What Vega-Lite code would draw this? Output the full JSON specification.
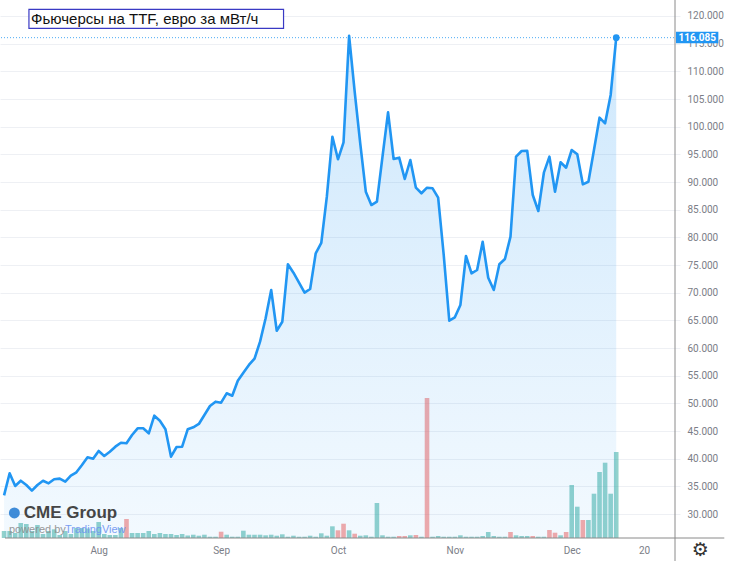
{
  "$schema": "https://vega.github.io/schema/vega-lite/v6.json",
  "description": "TTF futures, EUR per MWh, daily close with volume (TradingView style)",
  "width": 680,
  "height": 538,
  "autosize": {"type": "none"},
  "padding": {"left": 0, "top": 0, "right": 50, "bottom": 23},
  "background": "#ffffff",
  "config": {
    "view": {"stroke": null},
    "axis": {"labelOverlap": false, "labelFont": "Roboto", "labelFontSize": 10, "labelColor": "#7b7e87", "ticks": false, "tickSize": 0, "domain": false}
  },
  "datasets": {
    "ttf": [
      {"date": "2021-07-08", "i": -1, "price": 33.39, "vol": 7, "dir": "up"},
      {"date": "2021-07-09", "i": 0, "price": 37.38, "vol": 7, "dir": "up"},
      {"date": "2021-07-12", "i": 1, "price": 35.09, "vol": 5, "dir": "up"},
      {"date": "2021-07-13", "i": 2, "price": 36.04, "vol": 15, "dir": "up"},
      {"date": "2021-07-14", "i": 3, "price": 35.27, "vol": 14, "dir": "up"},
      {"date": "2021-07-15", "i": 4, "price": 34.24, "vol": 7, "dir": "up"},
      {"date": "2021-07-16", "i": 5, "price": 35.27, "vol": 13, "dir": "up"},
      {"date": "2021-07-19", "i": 6, "price": 36.04, "vol": 4, "dir": "up"},
      {"date": "2021-07-20", "i": 7, "price": 35.57, "vol": 7, "dir": "up"},
      {"date": "2021-07-21", "i": 8, "price": 36.30, "vol": 8.7, "dir": "up"},
      {"date": "2021-07-22", "i": 9, "price": 36.41, "vol": 3, "dir": "up"},
      {"date": "2021-07-23", "i": 10, "price": 35.86, "vol": 7, "dir": "up"},
      {"date": "2021-07-26", "i": 11, "price": 36.95, "vol": 4, "dir": "up"},
      {"date": "2021-07-27", "i": 12, "price": 37.56, "vol": 10, "dir": "up"},
      {"date": "2021-07-28", "i": 13, "price": 38.88, "vol": 10, "dir": "up"},
      {"date": "2021-07-29", "i": 14, "price": 40.27, "vol": 9.5, "dir": "up"},
      {"date": "2021-07-30", "i": 15, "price": 40.02, "vol": 7, "dir": "up"},
      {"date": "2021-08-02", "i": 16, "price": 41.41, "vol": 16, "dir": "up"},
      {"date": "2021-08-03", "i": 17, "price": 40.51, "vol": 4, "dir": "up"},
      {"date": "2021-08-04", "i": 18, "price": 41.28, "vol": 3, "dir": "up"},
      {"date": "2021-08-05", "i": 19, "price": 42.19, "vol": 3, "dir": "up"},
      {"date": "2021-08-06", "i": 20, "price": 42.91, "vol": 10, "dir": "up"},
      {"date": "2021-08-09", "i": 21, "price": 42.80, "vol": 19, "dir": "down"},
      {"date": "2021-08-10", "i": 22, "price": 44.30, "vol": 5, "dir": "up"},
      {"date": "2021-08-11", "i": 23, "price": 45.51, "vol": 5, "dir": "up"},
      {"date": "2021-08-12", "i": 24, "price": 45.51, "vol": 5, "dir": "up"},
      {"date": "2021-08-13", "i": 25, "price": 44.61, "vol": 7, "dir": "up"},
      {"date": "2021-08-16", "i": 26, "price": 47.79, "vol": 4, "dir": "up"},
      {"date": "2021-08-17", "i": 27, "price": 46.88, "vol": 5, "dir": "up"},
      {"date": "2021-08-18", "i": 28, "price": 45.33, "vol": 4, "dir": "up"},
      {"date": "2021-08-19", "i": 29, "price": 40.38, "vol": 4, "dir": "up"},
      {"date": "2021-08-20", "i": 30, "price": 42.13, "vol": 3, "dir": "up"},
      {"date": "2021-08-23", "i": 31, "price": 42.19, "vol": 4, "dir": "up"},
      {"date": "2021-08-24", "i": 32, "price": 45.33, "vol": 2.5, "dir": "up"},
      {"date": "2021-08-25", "i": 33, "price": 45.69, "vol": 3.3, "dir": "up"},
      {"date": "2021-08-26", "i": 34, "price": 46.29, "vol": 2.3, "dir": "up"},
      {"date": "2021-08-27", "i": 35, "price": 47.91, "vol": 3.3, "dir": "up"},
      {"date": "2021-08-30", "i": 36, "price": 49.54, "vol": 1.3, "dir": "up"},
      {"date": "2021-08-31", "i": 37, "price": 50.32, "vol": 1.3, "dir": "up"},
      {"date": "2021-09-01", "i": 38, "price": 50.14, "vol": 6.3, "dir": "down"},
      {"date": "2021-09-02", "i": 39, "price": 51.83, "vol": 3.3, "dir": "up"},
      {"date": "2021-09-03", "i": 40, "price": 51.40, "vol": 1.3, "dir": "up"},
      {"date": "2021-09-07", "i": 41, "price": 54.11, "vol": 1.3, "dir": "up"},
      {"date": "2021-09-08", "i": 42, "price": 55.56, "vol": 7.3, "dir": "up"},
      {"date": "2021-09-09", "i": 43, "price": 56.95, "vol": 3.3, "dir": "up"},
      {"date": "2021-09-10", "i": 44, "price": 58.08, "vol": 3.3, "dir": "up"},
      {"date": "2021-09-13", "i": 45, "price": 61.16, "vol": 3.3, "dir": "up"},
      {"date": "2021-09-14", "i": 46, "price": 65.38, "vol": 2.7, "dir": "up"},
      {"date": "2021-09-15", "i": 47, "price": 70.50, "vol": 3.3, "dir": "up"},
      {"date": "2021-09-16", "i": 48, "price": 63.14, "vol": 2.3, "dir": "up"},
      {"date": "2021-09-17", "i": 49, "price": 64.77, "vol": 3.7, "dir": "up"},
      {"date": "2021-09-20", "i": 50, "price": 75.14, "vol": 1.3, "dir": "up"},
      {"date": "2021-09-21", "i": 51, "price": 73.62, "vol": 2.3, "dir": "up"},
      {"date": "2021-09-22", "i": 52, "price": 71.82, "vol": 1.3, "dir": "up"},
      {"date": "2021-09-23", "i": 53, "price": 70.01, "vol": 1.3, "dir": "up"},
      {"date": "2021-09-24", "i": 54, "price": 70.68, "vol": 2.3, "dir": "up"},
      {"date": "2021-09-27", "i": 55, "price": 77.13, "vol": 1.3, "dir": "up"},
      {"date": "2021-09-28", "i": 56, "price": 78.99, "vol": 4.7, "dir": "up"},
      {"date": "2021-09-29", "i": 57, "price": 87.35, "vol": 2.3, "dir": "up"},
      {"date": "2021-09-30", "i": 58, "price": 98.19, "vol": 11.7, "dir": "up"},
      {"date": "2021-10-01", "i": 59, "price": 94.11, "vol": 7.7, "dir": "down"},
      {"date": "2021-10-04", "i": 60, "price": 97.18, "vol": 14.3, "dir": "down"},
      {"date": "2021-10-05", "i": 61, "price": 116.40, "vol": 7.7, "dir": "up"},
      {"date": "2021-10-06", "i": 62, "price": 106.32, "vol": 4.3, "dir": "down"},
      {"date": "2021-10-07", "i": 63, "price": 97.00, "vol": 2.3, "dir": "up"},
      {"date": "2021-10-08", "i": 64, "price": 88.26, "vol": 2.7, "dir": "up"},
      {"date": "2021-10-11", "i": 65, "price": 85.85, "vol": 1.3, "dir": "up"},
      {"date": "2021-10-12", "i": 66, "price": 86.45, "vol": 35, "dir": "up"},
      {"date": "2021-10-13", "i": 67, "price": 94.58, "vol": 2.7, "dir": "up"},
      {"date": "2021-10-14", "i": 68, "price": 102.60, "vol": 1.3, "dir": "up"},
      {"date": "2021-10-15", "i": 69, "price": 94.16, "vol": 1.3, "dir": "up"},
      {"date": "2021-10-18", "i": 70, "price": 94.40, "vol": 2, "dir": "down"},
      {"date": "2021-10-19", "i": 71, "price": 90.55, "vol": 2, "dir": "down"},
      {"date": "2021-10-20", "i": 72, "price": 93.98, "vol": 2.7, "dir": "up"},
      {"date": "2021-10-21", "i": 73, "price": 88.98, "vol": 3, "dir": "down"},
      {"date": "2021-10-22", "i": 74, "price": 87.97, "vol": 1.3, "dir": "up"},
      {"date": "2021-10-25", "i": 75, "price": 88.98, "vol": 140, "dir": "down"},
      {"date": "2021-10-26", "i": 76, "price": 88.87, "vol": 1.3, "dir": "up"},
      {"date": "2021-10-27", "i": 77, "price": 87.17, "vol": 2, "dir": "up"},
      {"date": "2021-10-28", "i": 78, "price": 76.82, "vol": 1.3, "dir": "up"},
      {"date": "2021-10-29", "i": 79, "price": 64.95, "vol": 1.3, "dir": "up"},
      {"date": "2021-11-01", "i": 80, "price": 65.56, "vol": 1.3, "dir": "up"},
      {"date": "2021-11-02", "i": 81, "price": 67.79, "vol": 2.7, "dir": "up"},
      {"date": "2021-11-03", "i": 82, "price": 76.64, "vol": 1.3, "dir": "up"},
      {"date": "2021-11-04", "i": 83, "price": 73.51, "vol": 1.3, "dir": "up"},
      {"date": "2021-11-05", "i": 84, "price": 74.11, "vol": 1.3, "dir": "up"},
      {"date": "2021-11-08", "i": 85, "price": 79.22, "vol": 2, "dir": "up"},
      {"date": "2021-11-09", "i": 86, "price": 72.72, "vol": 6, "dir": "up"},
      {"date": "2021-11-10", "i": 87, "price": 70.50, "vol": 2, "dir": "up"},
      {"date": "2021-11-11", "i": 88, "price": 75.14, "vol": 1.3, "dir": "up"},
      {"date": "2021-11-12", "i": 89, "price": 76.10, "vol": 1.3, "dir": "up"},
      {"date": "2021-11-15", "i": 90, "price": 80.13, "vol": 6, "dir": "down"},
      {"date": "2021-11-16", "i": 91, "price": 94.58, "vol": 2.7, "dir": "up"},
      {"date": "2021-11-17", "i": 92, "price": 95.61, "vol": 2, "dir": "up"},
      {"date": "2021-11-18", "i": 93, "price": 95.66, "vol": 2, "dir": "up"},
      {"date": "2021-11-19", "i": 94, "price": 87.66, "vol": 2, "dir": "down"},
      {"date": "2021-11-22", "i": 95, "price": 84.77, "vol": 1.3, "dir": "up"},
      {"date": "2021-11-23", "i": 96, "price": 91.69, "vol": 1.3, "dir": "up"},
      {"date": "2021-11-24", "i": 97, "price": 94.58, "vol": 8, "dir": "down"},
      {"date": "2021-11-26", "i": 98, "price": 88.26, "vol": 5.3, "dir": "down"},
      {"date": "2021-11-29", "i": 99, "price": 93.57, "vol": 2.7, "dir": "up"},
      {"date": "2021-11-30", "i": 100, "price": 92.59, "vol": 6, "dir": "down"},
      {"date": "2021-12-01", "i": 101, "price": 95.79, "vol": 53, "dir": "up"},
      {"date": "2021-12-02", "i": 102, "price": 95.01, "vol": 31.3, "dir": "up"},
      {"date": "2021-12-03", "i": 103, "price": 89.59, "vol": 18, "dir": "down"},
      {"date": "2021-12-06", "i": 104, "price": 90.06, "vol": 18, "dir": "up"},
      {"date": "2021-12-07", "i": 105, "price": 95.79, "vol": 44.3, "dir": "up"},
      {"date": "2021-12-08", "i": 106, "price": 101.63, "vol": 66, "dir": "up"},
      {"date": "2021-12-09", "i": 107, "price": 100.61, "vol": 75.3, "dir": "up"},
      {"date": "2021-12-10", "i": 108, "price": 105.73, "vol": 44.3, "dir": "up"},
      {"date": "2021-12-13", "i": 109, "price": 116.085, "vol": 86, "dir": "up"}
    ]
  },
  "layer": [
    {
      "data": {"name": "ttf"},
      "mark": {"type": "bar", "size": 4.6, "clip": true},
      "encoding": {
        "x": {
          "field": "i", "type": "quantitative",
          "scale": {"domain": [-0.832, 119.56], "nice": false, "zero": false},
          "axis": {
            "title": null, "grid": false,
            "values": [16, 38, 59, 80, 101, 114],
            "labelExpr": "datum.value == 16 ? 'Aug' : datum.value == 38 ? 'Sep' : datum.value == 59 ? 'Oct' : datum.value == 80 ? 'Nov' : datum.value == 101 ? 'Dec' : '20'",
            "labelPadding": 12, "labelBaseline": "middle", "labelFlush": false
          }
        },
        "y": {
          "field": "vol", "type": "quantitative",
          "scale": {"domain": [0, 538], "nice": false, "zero": true},
          "axis": null
        },
        "color": {
          "field": "dir", "type": "nominal",
          "scale": {"domain": ["up", "down"], "range": ["rgba(38,166,154,0.5)", "rgba(239,83,80,0.5)"]},
          "legend": null
        }
      }
    },
    {
      "layer": [
        {
          "data": {"name": "ttf"},
          "mark": {
            "type": "area", "clip": true,
            "color": {
              "gradient": "linear", "x1": 0, "y1": 0, "x2": 0, "y2": 1,
              "stops": [
                {"offset": 0, "color": "rgba(33,150,243,0.22)"},
                {"offset": 1, "color": "rgba(33,150,243,0.055)"}
              ]
            }
          },
          "encoding": {
            "x": {"field": "i", "type": "quantitative", "scale": {"domain": [-0.832, 119.56], "nice": false, "zero": false}},
            "y": {
              "field": "price", "type": "quantitative",
              "scale": {"domain": [25.69, 122.89], "nice": false, "zero": false},
              "axis": {
                "orient": "right", "title": null,
                "values": [30, 35, 40, 45, 50, 55, 60, 65, 70, 75, 80, 85, 90, 95, 100, 105, 110, 115, 120],
                "tickCount": 19,
                "format": ".3f", "grid": true, "gridColor": "#eef0f4", "gridWidth": 1,
                "labelAlign": "left", "labelPadding": 7, "labelBound": false, "labelOverlap": false
              }
            },
            "y2": {"datum": 25.69}
          }
        },
        {
          "data": {"name": "ttf"},
          "mark": {"type": "line", "clip": true, "color": "#2196f3", "strokeWidth": 2.6, "strokeJoin": "round"},
          "encoding": {
            "x": {"field": "i", "type": "quantitative"},
            "y": {"field": "price", "type": "quantitative"}
          }
        },
        {
          "data": {"values": [{}]},
          "mark": {"type": "rule", "color": "#2196f3", "strokeWidth": 1, "strokeDash": [1, 2], "opacity": 0.8},
          "encoding": {
            "y": {"datum": 116.085, "type": "quantitative"}
          }
        },
        {
          "data": {"name": "ttf"},
          "transform": [{"filter": "datum.i == 109"}],
          "mark": {"type": "point", "filled": true, "color": "#2196f3", "size": 45, "opacity": 1},
          "encoding": {
            "x": {"field": "i", "type": "quantitative"},
            "y": {"field": "price", "type": "quantitative"}
          }
        },
        {
          "data": {"values": [{}]},
          "mark": {"type": "rule", "color": "#8a8a8a", "strokeWidth": 1, "clip": false},
          "encoding": {
            "x": {"datum": 119.56, "type": "quantitative"},
            "y": {"datum": 122.89, "type": "quantitative"},
            "y2": {"datum": 21.54}
          }
        },
        {
          "data": {"values": [{}]},
          "mark": {"type": "rule", "color": "#8a8a8a", "strokeWidth": 1, "clip": false},
          "encoding": {
            "x": {"datum": -0.832, "type": "quantitative"},
            "x2": {"datum": 128.42},
            "y": {"datum": 25.69, "type": "quantitative"}
          }
        },
        {
          "data": {"values": [{}]},
          "mark": {"type": "rect", "color": "#2196f3", "clip": false},
          "encoding": {
            "x": {"datum": 119.74, "type": "quantitative"},
            "x2": {"datum": 127.35},
            "y": {"datum": 117.16, "type": "quantitative"},
            "y2": {"datum": 115.07}
          }
        },
        {
          "data": {"values": [{}]},
          "mark": {"type": "text", "text": "116.085", "color": "#ffffff", "font": "Roboto", "fontSize": 10, "fontWeight": "bold", "align": "center", "baseline": "middle", "clip": false},
          "encoding": {
            "x": {"datum": 123.55, "type": "quantitative"},
            "y": {"datum": 116.085, "type": "quantitative"}
          }
        },
        {
          "data": {"values": [{}]},
          "mark": {"type": "rect", "fill": "#ffffff", "stroke": "#3a3ac4", "strokeWidth": 1.2},
          "encoding": {
            "x": {"datum": 3.47, "type": "quantitative"},
            "x2": {"datum": 49.22},
            "y": {"datum": 121.21, "type": "quantitative"},
            "y2": {"datum": 117.78}
          }
        },
        {
          "data": {"values": [{}]},
          "mark": {"type": "text", "text": "Фьючерсы на TTF, евро за мВт/ч", "font": "Liberation Sans", "fontSize": 15, "color": "#111111", "align": "left", "baseline": "middle"},
          "encoding": {
            "x": {"datum": 3.86, "type": "quantitative"},
            "y": {"datum": 119.49, "type": "quantitative"}
          }
        },
        {
          "data": {"values": [{}]},
          "mark": {"type": "point", "shape": "circle", "filled": true, "color": "#2b7fd4", "size": 120, "opacity": 0.9},
          "encoding": {
            "x": {"datum": 0.85, "type": "quantitative"},
            "y": {"datum": 30.21, "type": "quantitative"}
          }
        },
        {
          "data": {"values": [{}]},
          "mark": {"type": "text", "text": "CME Group", "font": "Liberation Sans", "fontSize": 17, "fontWeight": "bold", "color": "#333333", "align": "left", "baseline": "middle", "opacity": 0.9},
          "encoding": {
            "x": {"datum": 2.53, "type": "quantitative"},
            "y": {"datum": 30.21, "type": "quantitative"}
          }
        },
        {
          "data": {"values": [{}]},
          "mark": {"type": "text", "text": "powered by", "font": "Liberation Sans", "fontSize": 11, "color": "#8e8e8e", "align": "left", "baseline": "middle", "opacity": 0.9},
          "encoding": {
            "x": {"datum": -0.124, "type": "quantitative"},
            "y": {"datum": 27.19, "type": "quantitative"}
          }
        },
        {
          "data": {"values": [{}]},
          "mark": {"type": "text", "text": "TradingView", "font": "Liberation Sans", "fontSize": 11, "color": "#6e94f2", "align": "left", "baseline": "middle", "opacity": 0.9},
          "encoding": {
            "x": {"datum": 9.95, "type": "quantitative"},
            "y": {"datum": 27.19, "type": "quantitative"}
          }
        },
        {
          "data": {"values": [{}]},
          "mark": {"type": "text", "text": "⚙", "font": "DejaVu Sans", "fontSize": 19, "color": "#333333", "align": "center", "baseline": "middle", "clip": false},
          "encoding": {
            "x": {"datum": 124.1, "type": "quantitative"},
            "y": {"datum": 23.52, "type": "quantitative"}
          }
        }
      ]
    }
  ],
  "resolve": {"scale": {"y": "independent"}}
}
